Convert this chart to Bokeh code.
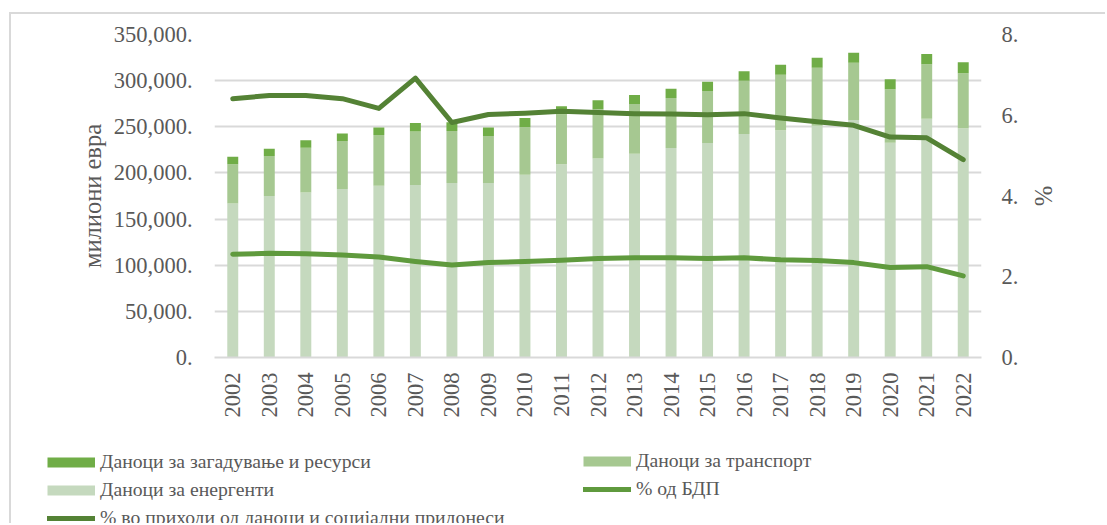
import math
from bokeh.plotting import figure
from bokeh.models import (Range1d, LinearAxis, Legend, LegendItem, FixedTicker,
                          ColumnDataSource)
from bokeh.embed import file_html
from bokeh.resources import INLINE

years = [str(y) for y in range(2002, 2023)]

# values (million EUR, cumulative tops of the stack)
energy_top = [166800, 175100, 178700, 182700, 186000, 187000, 189000, 189000, 197900, 209500,
              215500, 220900, 227100, 232500, 242300, 246300, 251000, 257400, 232800, 258800, 248400]
transport_top = [209500, 218400, 227400, 234700, 241200, 244800, 245500, 240100, 249900, 263500,
                 269000, 274800, 281300, 288800, 300000, 306500, 314000, 319500, 290700, 317700, 308000]
total_top = [217400, 226300, 235400, 242600, 249100, 254200, 255000, 249100, 259600, 272300,
             278800, 284500, 291300, 298900, 310200, 317300, 324900, 330300, 301500, 328900, 319900]

pct_revenue = [6.41, 6.49, 6.49, 6.41, 6.17, 6.92, 5.82, 6.02, 6.05, 6.10, 6.07, 6.04, 6.03,
               6.01, 6.04, 5.93, 5.84, 5.75, 5.46, 5.44, 4.90]
pct_gdp = [2.56, 2.58, 2.57, 2.54, 2.49, 2.38, 2.29, 2.35, 2.38, 2.41, 2.45, 2.47, 2.47,
           2.45, 2.47, 2.42, 2.40, 2.35, 2.23, 2.25, 2.02]

left_ticks = [0, 50000, 100000, 150000, 200000, 250000, 300000, 350000]
left_labels = ["0.", "50,000.", "100,000.", "150,000.", "200,000.", "250,000.", "300,000.", "350,000."]
right_ticks = [0, 2, 4, 6, 8]
right_labels = ["0.", "2.", "4.", "6.", "8."]

names = {
    "pollution": "Даноци за загадување и ресурси",
    "transport": "Даноци за транспорт",
    "energy": "Даноци за енергенти",
    "gdp": "% од БДП",
    "rev": "% во приходи од даноци и социјални придонеси",
}
y_label = "милиони евра"
y2_label = "%"

energy = energy_top
transport = [t - e for t, e in zip(transport_top, energy_top)]
pollution = [a - t for a, t in zip(total_top, transport_top)]

C_POLL = "#70AD47"
C_TRANS = "#A6C891"
C_ENERGY = "#C5D9BE"
C_GDP = "#5F9A3D"
C_REV = "#548235"
TXT = "#595959"
GRID = "#D9D9D9"
FONT = "Liberation Serif"

src = ColumnDataSource(dict(year=years, energy=energy, transport=transport, pollution=pollution,
                            gdp=pct_gdp, rev=pct_revenue))

W = 1096
p = figure(x_range=years, y_range=Range1d(0, 350000), width=W, height=426,
           output_backend="svg", toolbar_location=None,
           min_border_left=203, min_border_right=126, min_border_top=20, min_border_bottom=83)
p.styles = {"border-top": "2px solid #D9D9D9", "border-left": "2px solid #D9D9D9",
            "margin-top": "12px", "margin-left": "9px"}
p.extra_y_ranges = {"pct": Range1d(0, 8)}
p.outline_line_color = None

p.vbar_stack(["energy", "transport", "pollution"], x="year", width=0.3,
             color=[C_ENERGY, C_TRANS, C_POLL], line_width=0, source=src)

p.line("year", "gdp", source=src, y_range_name="pct", line_width=5, color=C_GDP,
       line_cap="round", line_join="round")
p.line("year", "rev", source=src, y_range_name="pct", line_width=5, color=C_REV,
       line_cap="round", line_join="round")

# axes
ya = p.yaxis[0]
ya.ticker = FixedTicker(ticks=left_ticks)
ya.major_label_overrides = dict(zip(left_ticks, left_labels))
ya.axis_label = y_label
ya.axis_line_color = None
ya.major_tick_line_color = None
ya.minor_tick_line_color = None
ya.major_label_standoff = 16
ya.axis_label_standoff = 5

ax2 = LinearAxis(y_range_name="pct", ticker=FixedTicker(ticks=right_ticks),
                 major_label_overrides=dict(zip(right_ticks, right_labels)),
                 axis_label=y2_label)
ax2.axis_line_color = None
ax2.major_tick_line_color = None
ax2.minor_tick_line_color = None
ax2.major_label_standoff = 14
ax2.axis_label_standoff = 9
p.add_layout(ax2, "right")

xa = p.xaxis[0]
xa.axis_line_color = GRID
xa.axis_line_width = 2
xa.major_tick_line_color = None
xa.minor_tick_line_color = None
xa.major_label_orientation = math.pi / 2
xa.major_label_standoff = 9

for ax in [ya, ax2, xa]:
    ax.major_label_text_font = FONT
    ax.major_label_text_font_size = "22.5px"
    ax.major_label_text_color = TXT
    ax.axis_label_text_font = FONT
    ax.axis_label_text_font_size = "24.5px"
    ax.axis_label_text_color = TXT
    ax.axis_label_text_font_style = "normal"

p.xgrid.grid_line_color = None
p.ygrid.grid_line_color = GRID
p.ygrid.grid_line_width = 2
p.ygrid.ticker = FixedTicker(ticks=left_ticks)

# ---- legend strip (separate root below the chart) ----
LH = 85
lf = figure(width=W, height=LH, x_range=Range1d(0, 1), y_range=Range1d(0, 1),
            x_axis_type=None, y_axis_type=None, output_backend="svg", toolbar_location=None,
            min_border=0, min_border_left=0, min_border_right=0, min_border_top=0,
            min_border_bottom=0)
lf.styles = {"border-left": "2px solid #D9D9D9", "margin-left": "9px"}
lf.outline_line_color = None
lf.grid.grid_line_color = None

# single-point proxies: draw nothing themselves, give the legend its glyphs
px_poll = lf.line(x=[0.5], y=[0.5], line_width=10, color=C_POLL, line_cap="butt")
px_trans = lf.line(x=[0.5], y=[0.5], line_width=10, color=C_TRANS, line_cap="butt")
px_energy = lf.line(x=[0.5], y=[0.5], line_width=10, color=C_ENERGY, line_cap="butt")
px_gdp = lf.line(x=[0.5], y=[0.5], line_width=5, color=C_GDP, line_cap="round")
px_rev = lf.line(x=[0.5], y=[0.5], line_width=5, color=C_REV, line_cap="round")


def mk_legend(items, loc):
    return Legend(items=items, location=loc, orientation="vertical",
                  glyph_width=48, glyph_height=20, label_height=20, spacing=5,
                  label_standoff=5, padding=0, margin=0,
                  border_line_color=None, background_fill_alpha=0,
                  label_text_font=FONT, label_text_font_size="19.7px", label_text_color=TXT)


leg1 = mk_legend([LegendItem(label=names["pollution"], renderers=[px_poll]),
                  LegendItem(label=names["energy"], renderers=[px_energy]),
                  LegendItem(label=names["rev"], renderers=[px_rev])], (36, -6))
leg2 = mk_legend([LegendItem(label=names["transport"], renderers=[px_trans]),
                  LegendItem(label=names["gdp"], renderers=[px_gdp])], (572, 23))
lf.add_layout(leg1, "center")
lf.add_layout(leg2, "center")

open("out.html", "w").write(file_html([p, lf], INLINE))
